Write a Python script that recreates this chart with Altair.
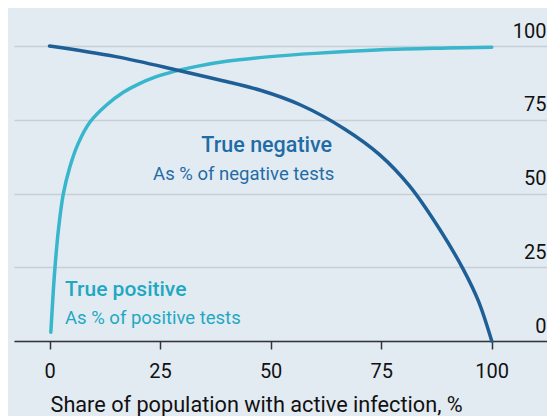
import altair as alt
import pandas as pd

# True positive (as % of positive tests)
tp_x = [0.3, 0.86, 1.24, 2.0, 3.1, 4.6, 6.5, 9.2, 12.9, 16.7, 20, 24, 28, 33, 40, 50, 60, 75, 90, 100]
tp_y = [3, 17, 25, 37.5, 49.7, 59, 67, 74.3, 80, 84.3, 87, 89.5, 91.3, 93, 94.8, 96.4, 97.5, 98.7, 99.3, 99.6]

# True negative (as % of negative tests)
tn_x = [0, 15, 29, 38.7, 47.7, 56.8, 66.8, 74.7, 81.5, 88.3, 93.6, 97, 100]
tn_y = [100, 96.4, 91.8, 88.4, 85, 80, 71.8, 63.1, 52.4, 37.7, 24.2, 13.5, 0]

x_ticks = [0, 25, 50, 75, 100]
y_ticks = [0, 25, 50, 75, 100]

DARK = "#1d5f96"
CYAN = "#37b6cc"
DARK_TXT = "#1f6ca6"
CYAN_TXT = "#1ea8c2"
BG = "#e3ebf2"

lines = pd.concat([
    pd.DataFrame({"x": tp_x, "y": tp_y, "s": "pos"}),
    pd.DataFrame({"x": tn_x, "y": tn_y, "s": "neg"}),
])

ann_text = ["True negative", "As % of negative tests", "True positive", "As % of positive tests"]
ann_x = [63.9, 64.4, 3.5, 3.5]
ann_y = [64.1, 54.7, 15.2, 5.6]
ann_kind = ["head", "sub", "head", "sub"]
ann_side = ["right", "right", "left", "left"]

labels = pd.DataFrame({"x": ann_x, "y": ann_y, "t": ann_text, "kind": ann_kind, "side": ann_side})

xs = alt.Scale(domain=[-8.03, 112.5], nice=False, zero=False)
ys = alt.Scale(domain=[0, 100], nice=False)
FONT = "Roboto"

base_x = alt.X("x:Q", scale=xs, axis=alt.Axis(
    values=x_ticks, title="Share of population with active infection, %",
    grid=False, domain=True, domainColor="#333333", domainWidth=1.5,
    ticks=True, tickColor="#333333", tickSize=8, tickWidth=1.5,
    labelFont=FONT, labelFontSize=20, labelColor="#111111", labelPadding=12,
    titleFont=FONT, titleFontSize=21.7, titleFontWeight="normal", titleColor="#111111",
    titleAnchor="start", titleAlign="left", titleBaseline="alphabetic", titleX=36, titleY=70,
))
base_y = alt.Y("y:Q", scale=ys, axis=alt.Axis(
    orient="right", values=y_ticks, title=None, grid=True, gridColor="#c7ced5",
    gridWidth=1.5, domain=False, ticks=False,
    labelFont=FONT, labelFontSize=20, labelColor="#111111",
    labelAlign="right", labelBaseline="alphabetic", labelOffset=-9, labelPadding=-1,
))

color = alt.Color("s:N", scale=alt.Scale(domain=["pos", "neg"], range=[CYAN, DARK]), legend=None)

line = alt.Chart(lines).mark_line(strokeWidth=3.5, interpolate="catmull-rom", strokeCap="round").encode(
    x=base_x, y=base_y, color=color, detail="s:N", order=alt.Order("x:Q"))

def txt(kind, side, fs, weight, col):
    d = labels[(labels["kind"] == kind) & (labels["side"] == side)]
    return alt.Chart(d).mark_text(align=side, baseline="alphabetic", font=FONT,
                                  fontSize=fs, fontWeight=weight, color=col).encode(
        x=alt.X("x:Q", scale=xs), y=alt.Y("y:Q", scale=ys), text="t:N")

chart = alt.layer(
    line,
    txt("head", "right", 21.5, 500, DARK_TXT),
    txt("sub", "right", 18.5, "normal", DARK_TXT),
    txt("head", "left", 21, 500, CYAN_TXT),
    txt("sub", "left", 18.5, "normal", CYAN_TXT),
).properties(
    width=533, height=295,
    autosize=alt.AutoSizeParams(type="none"),
    padding={"left": 6, "top": 38, "right": 0, "bottom": 75},
    background=BG,
).configure_view(stroke=None)

chart.save("out.html", embed_options={"renderer": "svg", "actions": False})
